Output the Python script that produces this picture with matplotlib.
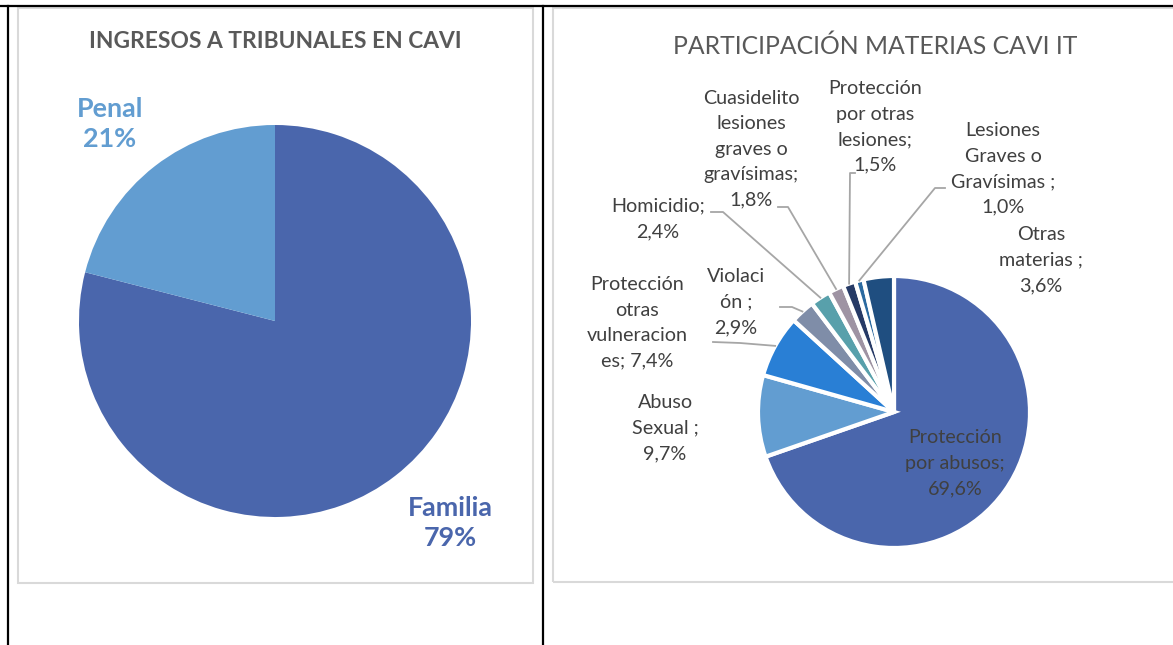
import numpy as np
import matplotlib.pyplot as plt
from matplotlib.patches import Rectangle

# ---- data ----
tribunal_labels = ["Familia", "Penal"]
tribunal_values = [79, 21]
tribunal_colors = ["#4A66AC", "#629DD1"]

materias = ["Protección por abusos", "Abuso Sexual", "Protección otras vulneraciones",
            "Violación", "Homicidio", "Cuasidelito lesiones graves o gravísimas",
            "Protección por otras lesiones", "Lesiones Graves o Gravísimas", "Otras materias"]
materias_values = [69.6, 9.7, 7.4, 2.9, 2.4, 1.8, 1.5, 1.0, 3.6]
materias_colors = ["#4A66AC", "#629DD1", "#297FD5", "#7F8DA8", "#58A0AB",
                   "#9E93A3", "#263A66", "#2B6AA0", "#1F4E80"]
# label text as shown in the chart (line breaks as in the original)
materias_text = ["Protección\npor abusos;\n69,6%", "Abuso\nSexual ;\n9,7%",
                 "Protección\notras\nvulneracion\nes; 7,4%", "Violaci\nón ;\n2,9%",
                 "Homicidio;\n2,4%", "Cuasidelito\nlesiones\ngraves o\ngravísimas;\n1,8%",
                 "Protección\npor otras\nlesiones;\n1,5%", "Lesiones\nGraves o\nGravísimas ;\n1,0%",
                 "Otras\nmaterias ;\n3,6%"]

W, H = 1173, 645
plt.rcParams['font.family'] = ['Lato', 'DejaVu Sans']

fig = plt.figure(figsize=(W / 100, H / 100), dpi=100)
ax = fig.add_axes([0, 0, 1, 1])


def Y(p):
    return H - p


# boxes and table lines
ax.add_patch(Rectangle((18, Y(583)), 515, 575, fill=False, edgecolor="#d9d9d9", lw=1.5))
ax.add_patch(Rectangle((553, Y(582)), 640, 574, fill=False, edgecolor="#d9d9d9", lw=1.5))
ax.plot([0, W], [Y(6), Y(6)], color="black", lw=1.6)
ax.plot([8, 8], [Y(6), 0], color="black", lw=1.6)
ax.plot([543, 543], [Y(6), 0], color="black", lw=1.6)

# ---- left pie ----
ax.pie(tribunal_values, colors=tribunal_colors, startangle=90, counterclock=False,
       center=(275, Y(321)), radius=196, wedgeprops=dict(linewidth=0))
ax.text(275, Y(42), "INGRESOS A TRIBUNALES EN CAVI", ha="center", va="center",
        fontsize=16.4, fontweight="bold", color="#595959")
ax.text(110, Y(124), f"{tribunal_labels[1]}\n{tribunal_values[1]}%", ha="center", va="center",
        fontsize=19.4, fontweight="bold", color=tribunal_colors[1], linespacing=1.3)
ax.text(450, Y(523), f"{tribunal_labels[0]}\n{tribunal_values[0]}%", ha="center", va="center",
        fontsize=19.4, fontweight="bold", color=tribunal_colors[0], linespacing=1.3)

# ---- right pie ----
cx, cy, r = 894, Y(412), 136
wedges, _ = ax.pie(materias_values, colors=materias_colors, startangle=90, counterclock=False,
                   center=(cx, cy), radius=r,
                   wedgeprops=dict(linewidth=3, edgecolor="white"))
ax.text(875, Y(46), "PARTICIPACIÓN MATERIAS CAVI IT", ha="center", va="center",
        fontsize=17.8, color="#595959")

# label centres (px)
label_pos = [(955, 463), (665, 428), (637, 323), (736, 302), (658, 219),
             (751, 149), (875, 127), (1003, 169), (1041, 260)]
for txt, (lx, ly) in zip(materias_text, label_pos):
    ax.text(lx, Y(ly), txt, ha="center", va="center", fontsize=14.2,
            color="#404040", linespacing=1.6)

# leader lines: index -> (start, elbow) in px
leaders = {2: ((713, 342), (740, 343)), 3: ((780, 307), (792, 307)),
           4: ((711, 212), (723, 212)), 5: ((778, 207), (788, 207)),
           6: ((855, 173), (850, 173)), 7: ((945, 188), (935, 188))}
for i, (s, e) in leaders.items():
    w = wedges[i]
    ang = np.deg2rad((w.theta1 + w.theta2) / 2)
    ex, ey = cx + r * np.cos(ang), cy + r * np.sin(ang)
    ax.plot([s[0], e[0], ex], [Y(s[1]), Y(e[1]), ey], color="#A6A6A6", lw=1.3)

ax.set_xlim(0, W)
ax.set_ylim(0, H)
ax.set_aspect("auto")
ax.axis("off")

fig.savefig("out.png", dpi=100)
